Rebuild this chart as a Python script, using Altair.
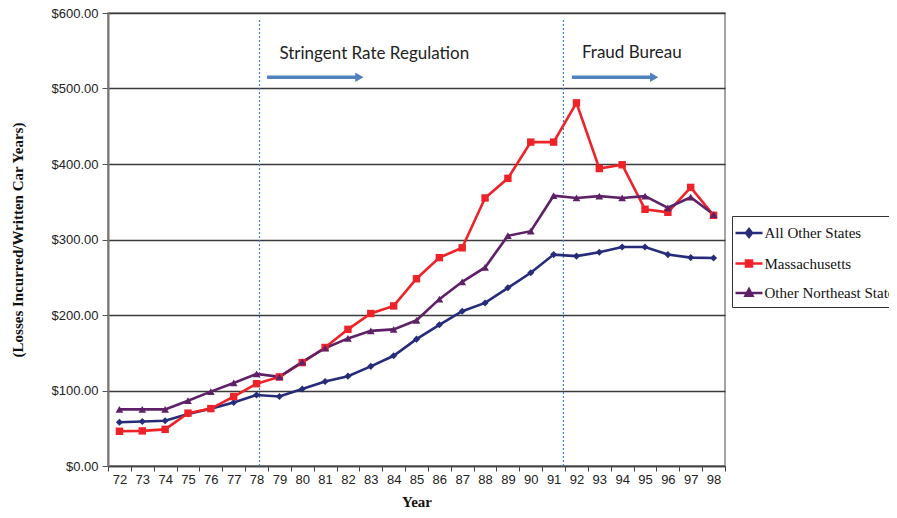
import altair as alt
import pandas as pd

years = list(range(72, 99))
all_other = [58, 59, 60, 69, 76, 84, 94, 92, 102, 112, 119, 132, 146, 168, 187, 205,
             216, 236, 256, 280, 278, 283, 290, 290, 280, 276, 275.5]
mass = [46, 46.5, 48.5, 70, 76, 92, 109, 118, 137, 157, 181, 202, 212, 248, 276, 289,
        355, 381, 429, 429, 481, 394, 399, 340, 336, 369, 332]
other_ne = [75, 75, 75, 86.5, 98.5, 110, 122, 118, 138, 156, 169, 179, 181, 193, 221, 244,
            263, 305, 311, 358, 355, 357.5, 355, 357.5, 342, 356, 333]

series_names = ["All Other States", "Massachusetts", "Other Northeast States"]
series_colors = ["#262B7A", "#EE2229", "#5E2167"]
series_shapes = ["diamond", "square", "triangle-up"]
series_sizes = [50, 55, 60]
legend_symbols = [
    "M-1.35,0H1.35M0,-0.4L0.3,0L0,0.4L-0.3,0Z",
    "M-1.35,0H1.35M-0.3,-0.3H0.3V0.3H-0.3Z",
    "M-1.35,0H1.35M0,-0.38L0.35,0.27H-0.35Z",
]

y_ticks = [0, 100, 200, 300, 400, 500, 600]
x_bounds = [71.5 + i for i in range(28)]

event_years = [78.13, 91.43]
event_bottom = [0, 0]
event_top = [591, 591]
event_labels = ["Stringent Rate Regulation", "Fraud Bureau"]
label_x = [79.0, 92.24]
label_y = [539, 540]
arrow_start = [78.46, 91.8]
arrow_end = [82.5, 95.4]
arrow_y = [515, 515]

rows = []
for name, vals in zip(series_names, [all_other, mass, other_ne]):
    for yr, v in zip(years, vals):
        rows.append({"year": yr, "value": v, "series": name})
df = pd.DataFrame(rows)
legend_df = pd.DataFrame({"grp": series_names, "year": [80, 80, 80], "value": [0, 0, 0]})

events = pd.DataFrame({"x": event_years, "bottom": event_bottom, "top": event_top})
labels = pd.DataFrame({"x": label_x, "y": label_y, "text": event_labels})
arrows = pd.DataFrame({"x": arrow_start, "x2": arrow_end, "y": arrow_y})

W, H = 617, 453

x_scale = alt.Scale(domain=[71.5, 98.5], nice=False, zero=False)
y_scale = alt.Scale(domain=[0, 600], nice=False)

x_axis = alt.Axis(
    values=x_bounds,
    labelExpr="datum.value < 98 ? format(datum.value + 0.5, 'd') : ''",
    labelOffset=W / 27 / 2,
    labelFlush=False,
    labelOverlap=False,
    labelBound=False,
    grid=False,
    tickSize=5,
    tickColor="#444",
    domainColor="#444",
    domainWidth=1.5,
    title="Year",
    titlePadding=8,
)
y_axis = alt.Axis(
    values=y_ticks,
    format="$.2f",
    grid=True,
    gridColor="#3a3a3a",
    gridWidth=1.3,
    tickSize=6,
    tickColor="#555",
    domainColor="#777",
    domainWidth=2,
    labelPadding=4,
    title="(Losses Incurred/Written Car Years)",
    titlePadding=26,
)


def X(field):
    return alt.X(field, scale=x_scale, axis=x_axis)


def Y(field):
    return alt.Y(field, scale=y_scale, axis=y_axis)


legend_props = dict(
    orient="none", legendX=624, legendY=203, symbolType="stroke",
    padding=5.5, rowPadding=9.5, strokeColor="#333", fillColor="white",
    labelFont="Liberation Serif", labelFontSize=15, labelColor="#111", labelLimit=400,
    symbolSize=400, symbolStrokeWidth=2.5,
)

color_scale = alt.Scale(domain=series_names, range=series_colors)

event_rules = alt.Chart(events).mark_rule(color="#3F7FD0", strokeWidth=1.2, strokeDash=[2, 2]).encode(
    x=X("x:Q"),
    y=Y("bottom:Q"),
    y2="top:Q",
)

lines = alt.Chart(df).mark_line(strokeWidth=2.6).encode(
    x=X("year:Q"),
    y=Y("value:Q"),
    color=alt.Color("series:N", scale=color_scale, legend=alt.Legend(**legend_props), title=""),
    detail="series:N",
)

point_layers = []
for name, shp, sz in zip(series_names, series_shapes, series_sizes):
    point_layers.append(
        alt.Chart(df).transform_filter(alt.datum.series == name)
        .mark_point(filled=True, opacity=1, size=sz, shape=shp)
        .encode(
            x=X("year:Q"),
            y=Y("value:Q"),
            color=alt.Color("series:N", scale=color_scale),
        )
    )

legend_layer = alt.Chart(legend_df).transform_filter("datum.value > 1000").mark_point(
    filled=True, size=400, strokeWidth=2
).encode(
    x=X("year:Q"),
    y=Y("value:Q"),
    shape=alt.Shape("grp:N", scale=alt.Scale(domain=series_names, range=legend_symbols),
                    legend=alt.Legend(**legend_props), title=""),
)

texts = alt.Chart(labels).mark_text(
    align="left", baseline="alphabetic", font="Lato", fontSize=17, color="#222"
).encode(
    x=X("x:Q"),
    y=Y("y:Q"),
    text="text:N",
)

arrow_shafts = alt.Chart(arrows).mark_rule(color="#4F81BD", strokeWidth=3.5).encode(
    x=X("x:Q"),
    x2="x2:Q",
    y=Y("y:Q"),
)
arrow_heads = alt.Chart(arrows).mark_point(
    shape="triangle-right", filled=True, color="#4F81BD", size=90, opacity=1
).encode(
    x=X("x2:Q"),
    y=Y("y:Q"),
)

chart = alt.layer(
    event_rules, lines, *point_layers, texts, arrow_shafts, arrow_heads, legend_layer
).properties(
    width=W, height=H, background="white",
    autosize=alt.AutoSizeParams(type="none"),
    padding={"left": 100, "top": 5, "right": 164, "bottom": 48},
).configure_view(
    stroke="#888", strokeWidth=1.5
).configure_axis(
    labelFont="Liberation Sans", labelFontSize=13, labelColor="#222",
    titleFont="Liberation Serif", titleFontSize=15, titleFontWeight="bold", titleColor="#111",
)

chart.save("out.html", embed_options={"renderer": "svg", "actions": False})
